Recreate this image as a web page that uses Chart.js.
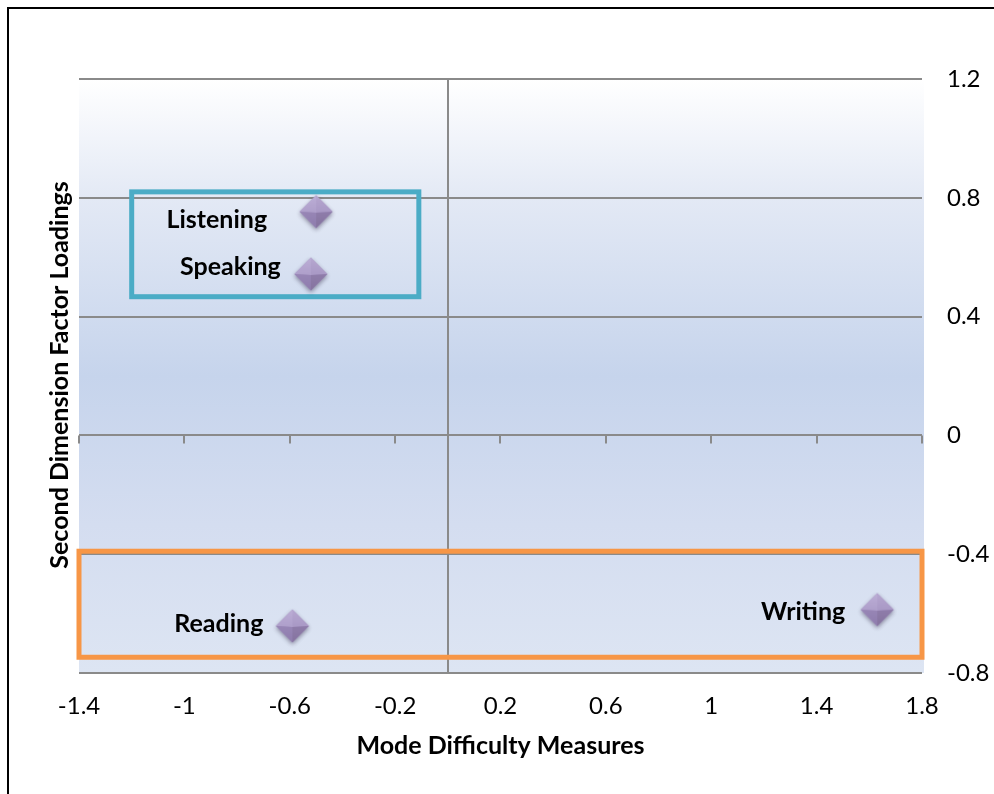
<!DOCTYPE html>
<html>
<head>
<meta charset="utf-8">
<script src="https://cdn.jsdelivr.net/npm/chart.js@4.4.1/dist/chart.umd.min.js"></script>
<style>
  html, body { margin: 0; padding: 0; background: #ffffff; }
  #wrap { width: 994px; height: 794px; position: relative; }
</style>
</head>
<body>
<div id="wrap"><canvas id="chart" width="994" height="794"></canvas></div>
<script>
// Skill modes and their coordinates
const modes = ['Listening', 'Speaking', 'Reading', 'Writing'];
const difficulty = [-0.50, -0.52, -0.59, 1.63];      // Mode Difficulty Measures
const loadings = [0.75, 0.54, -0.645, -0.59];        // Second Dimension Factor Loadings

// Axis ticks
const xTicks = [-1.4, -1, -0.6, -0.2, 0.2, 0.6, 1, 1.4, 1.8];
const yTicks = [-0.8, -0.4, 0, 0.4, 0.8, 1.2];

// Grouping boxes, in axis units: [xMin, xMax, yMin, yMax]
const groupBoxListenSpeak = [-1.2, -0.11, 0.467, 0.82];
const groupBoxReadWrite = [-1.4, 1.8, -0.747, -0.39];

// Label placement around each marker (pixel offsets from the point, label right edge)
const labelOffsets = [[-49, 7], [-30, -8], [-29, -3], [-32, 1]];

const FONT = 'Lato, "Open Sans", "Liberation Sans", sans-serif';

// Bevelled diamond marker drawn once on a small canvas
function makeDiamond() {
  const s = 46;
  const c = document.createElement('canvas');
  c.width = s; c.height = s;
  const g = c.getContext('2d');
  const cx = s / 2, cy = s / 2 - 1, h = 16.5;
  const T = [cx, cy - h], R = [cx + h, cy], B = [cx, cy + h], L = [cx - h, cy], C = [cx, cy + 1];
  g.save();
  g.shadowColor = 'rgba(40,30,60,0.45)';
  g.shadowBlur = 4;
  g.shadowOffsetY = 2;
  g.beginPath();
  g.moveTo(T[0], T[1]); g.lineTo(R[0], R[1]); g.lineTo(B[0], B[1]); g.lineTo(L[0], L[1]);
  g.closePath();
  g.fillStyle = '#9c8abb';
  g.fill();
  g.restore();
  function face(a, b, col1, col2) {
    const grad = g.createLinearGradient(cx, cy - h, cx, cy + h);
    grad.addColorStop(0, col1);
    grad.addColorStop(1, col2);
    g.beginPath();
    g.moveTo(a[0], a[1]); g.lineTo(b[0], b[1]); g.lineTo(C[0], C[1]);
    g.closePath();
    g.fillStyle = grad;
    g.fill();
  }
  face(L, T, '#bcaed6', '#a291c0');
  face(T, R, '#b6a7d0', '#9d8cbc');
  face(B, L, '#a190be', '#8e7cad');
  face(R, B, '#9987b6', '#85739f');
  return c;
}

const diamond = makeDiamond();

const framePlugin = {
  id: 'frame',
  beforeDraw(chart) {
    const { ctx, chartArea: a } = chart;
    ctx.save();
    ctx.fillStyle = '#ffffff';
    ctx.fillRect(0, 0, chart.width, chart.height);
    // outer frame
    ctx.strokeStyle = '#000000';
    ctx.lineWidth = 2;
    ctx.strokeRect(8, 8, chart.width + 20, chart.height + 20);
    // plot area fill
    const grad = ctx.createLinearGradient(0, a.top, 0, a.bottom);
    grad.addColorStop(0, '#ffffff');
    grad.addColorStop(0.2, '#e3e9f5');
    grad.addColorStop(0.5, '#c6d4ec');
    grad.addColorStop(0.75, '#d4ddf0');
    grad.addColorStop(1, '#dde5f3');
    ctx.fillStyle = grad;
    ctx.fillRect(a.left, a.top, a.right - a.left + 2, a.bottom - a.top);
    ctx.restore();
  },
  beforeDatasetsDraw(chart) {
    const { ctx, chartArea: a, scales: { x, y } } = chart;
    ctx.save();
    ctx.strokeStyle = '#8a8a8a';
    ctx.lineWidth = 2;
    // vertical axis at x = 0
    const x0 = Math.round(x.getPixelForValue(0));
    ctx.beginPath();
    ctx.moveTo(x0, a.top);
    ctx.lineTo(x0, a.bottom);
    ctx.stroke();
    // tick marks on the horizontal axis at y = 0
    const y0 = y.getPixelForValue(0);
    ctx.beginPath();
    xTicks.forEach(v => {
      const px = Math.round(x.getPixelForValue(v));
      ctx.moveTo(px, y0);
      ctx.lineTo(px, y0 + 8);
    });
    ctx.stroke();
    // grouping boxes
    const boxes = [[groupBoxListenSpeak, '#4bacc6'], [groupBoxReadWrite, '#f79646']];
    boxes.forEach(([b, col]) => {
      const l = x.getPixelForValue(b[0]), r = x.getPixelForValue(b[1]);
      const t = y.getPixelForValue(b[3]), btm = y.getPixelForValue(b[2]);
      ctx.strokeStyle = col;
      ctx.lineWidth = 5;
      ctx.strokeRect(l, t, r - l, btm - t);
    });
    ctx.restore();
  },
  afterDatasetsDraw(chart) {
    const { ctx } = chart;
    const meta = chart.getDatasetMeta(0);
    ctx.save();
    ctx.fillStyle = '#000000';
    ctx.font = 'bold 25px ' + FONT;
    ctx.textAlign = 'right';
    ctx.textBaseline = 'middle';
    meta.data.forEach((pt, i) => {
      const [dx, dy] = labelOffsets[i];
      ctx.fillText(modes[i], pt.x + dx, pt.y + dy);
    });
    // axis titles
    const a = chart.chartArea;
    ctx.textAlign = 'center';
    ctx.font = 'bold 25px ' + FONT;
    ctx.fillText('Mode Difficulty Measures', (a.left + a.right) / 2, 746);
    ctx.save();
    ctx.translate(60, 375);
    ctx.rotate(-Math.PI / 2);
    ctx.fillText('Second Dimension Factor Loadings', 0, 0);
    ctx.restore();
    ctx.restore();
  }
};

new Chart(document.getElementById('chart'), {
  type: 'scatter',
  data: {
    labels: modes,
    datasets: [{
      label: 'Modes',
      data: difficulty.map((v, i) => ({ x: v, y: loadings[i] })),
      pointStyle: diamond,
      pointRadius: 16,
      pointHoverRadius: 16
    }]
  },
  options: {
    responsive: false,
    animation: false,
    layout: { padding: { left: 79, top: 79, right: 0, bottom: 0 } },
    plugins: { legend: { display: false }, tooltip: { enabled: false } },
    scales: {
      x: {
        type: 'linear',
        position: 'bottom',
        min: -1.4,
        max: 1.8,
        afterBuildTicks(s) { s.ticks = xTicks.map(v => ({ value: v })); },
        afterFit(s) { s.height = 121; },
        grid: { display: false },
        border: { display: false },
        ticks: {
          padding: 11,
          color: '#000000',
          font: { family: FONT, size: 24 },
          callback: v => String(v)
        }
      },
      y: {
        type: 'linear',
        position: 'right',
        min: -0.8,
        max: 1.2,
        afterBuildTicks(s) { s.ticks = yTicks.map(v => ({ value: v })); },
        afterFit(s) { s.width = 72; },
        grid: { color: '#8a8a8a', lineWidth: 2, drawTicks: false },
        border: { display: false },
        ticks: {
          padding: 25,
          color: '#000000',
          font: { family: FONT, size: 24 },
          callback: v => String(v)
        }
      }
    }
  },
  plugins: [framePlugin]
});
</script>
</body>
</html>
